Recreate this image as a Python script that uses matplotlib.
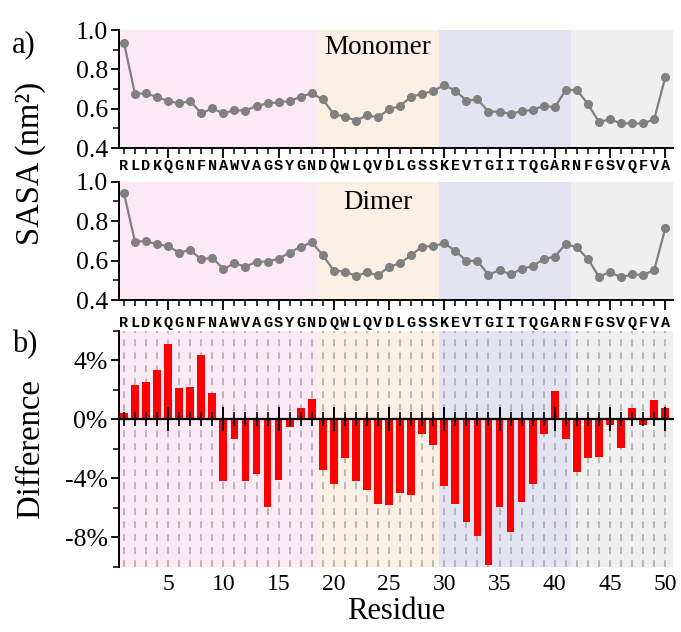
import matplotlib
matplotlib.use("Agg")
import matplotlib.pyplot as plt
from matplotlib.ticker import MultipleLocator, FixedLocator

plt.rcParams['font.family'] = ['Liberation Serif', 'DejaVu Serif']

sequence = "RLDKQGNFNAWVAGSYGNDQWLQVDLGSSKEVTGIITQGARNFGSVQFVA"
residues = list(range(1, 51))

monomer = [0.936, 0.675, 0.678, 0.659, 0.639, 0.627, 0.639, 0.576, 0.602, 0.576,
           0.593, 0.590, 0.614, 0.627, 0.632, 0.639, 0.661, 0.678, 0.647, 0.573,
           0.559, 0.539, 0.566, 0.556, 0.597, 0.614, 0.661, 0.675, 0.690, 0.720,
           0.692, 0.641, 0.647, 0.585, 0.585, 0.573, 0.588, 0.593, 0.615, 0.607,
           0.695, 0.695, 0.624, 0.532, 0.546, 0.525, 0.525, 0.525, 0.546, 0.759]

dimer = [0.941, 0.696, 0.699, 0.682, 0.674, 0.640, 0.653, 0.606, 0.615, 0.557,
         0.586, 0.569, 0.594, 0.594, 0.610, 0.640, 0.670, 0.692, 0.628, 0.549,
         0.544, 0.522, 0.540, 0.525, 0.569, 0.586, 0.628, 0.670, 0.674, 0.687,
         0.650, 0.598, 0.598, 0.527, 0.552, 0.530, 0.557, 0.572, 0.608, 0.620,
         0.684, 0.667, 0.608, 0.518, 0.542, 0.515, 0.530, 0.527, 0.552, 0.763]

difference = [0.45, 2.30, 2.53, 3.32, 5.08, 2.12, 2.17, 4.38, 1.79, -4.16,
              -1.36, -4.20, -3.71, -5.97, -4.11, -0.52, 0.77, 1.40, -3.43, -4.38,
              -2.64, -4.16, -4.77, -5.76, -5.81, -5.02, -5.13, -1.02, -1.72, -4.54,
              -5.76, -7.00, -7.91, -9.90, -5.97, -7.64, -5.60, -4.41, -1.02, 1.92,
              -1.36, -3.57, -2.64, -2.55, -0.36, -1.97, 0.79, -0.36, 1.29, 0.79]

# segment boundaries (residue) and colours
regions = [(0.5, 18.5, '#fce9f5'), (18.5, 29.5, '#fcefe3'),
           (29.5, 41.5, '#e3e3f3'), (41.5, 50.7, '#efefef')]

xmin, xmax = 0.55, 50.7
fig = plt.figure(figsize=(6.81, 6.32), dpi=100)

ax1 = fig.add_axes([0.1747, 0.7658, 0.8135, 0.1867])
ax2 = fig.add_axes([0.1747, 0.5253, 0.8135, 0.1872])
ax3 = fig.add_axes([0.1747, 0.1033, 0.8135, 0.3734])


def shade(ax):
    for a, b, c in regions:
        ax.axvspan(a, b, color=c, lw=0, zorder=0)


for ax, vals, name, ty in [(ax1, monomer, 'Monomer', 0.91), (ax2, dimer, 'Dimer', 0.895)]:
    shade(ax)
    ax.plot(residues, vals, '-o', color='#808080', lw=1.6, ms=5.5, zorder=3)
    ax.set_xlim(xmin, xmax)
    ax.set_ylim(0.4, 1.0)
    ax.spines['top'].set_visible(False)
    ax.spines['right'].set_visible(False)
    ax.spines['left'].set_linewidth(1.4)
    ax.spines['bottom'].set_linewidth(1.4)
    ax.xaxis.set_major_locator(MultipleLocator(5))
    ax.xaxis.set_minor_locator(MultipleLocator(1))
    ax.yaxis.set_major_locator(FixedLocator([0.4, 0.6, 0.8, 1.0]))
    ax.yaxis.set_minor_locator(FixedLocator([0.5, 0.7, 0.9]))
    ax.set_yticklabels(['0.4', '0.6', '0.8', '1.0'])
    ax.tick_params(axis='x', which='major', length=7, width=1.3, labelbottom=False)
    ax.tick_params(axis='x', which='minor', length=4, width=1.1)
    ax.tick_params(axis='y', which='major', length=6, width=1.3, labelsize=18.5, pad=2)
    ax.tick_params(axis='y', which='minor', length=4, width=1.1)
    ax.text(24, ty, name, ha='center', va='center', fontsize=19.5)

# sequence letters above dimer panel and difference panel
for ax, yy in [(ax2, 1.135), (ax3, 1.034)]:
    for r, ch in zip(residues, sequence):
        ax.text(r, yy, ch, transform=ax.get_xaxis_transform(), ha='center',
                va='center', fontsize=11, fontweight='bold',
                family='Liberation Mono')

# difference panel
shade(ax3)
for r in residues:
    ax3.axvline(r, color='#a8a8a8', lw=1.1, ls=(0, (4.5, 4)), zorder=1)
ax3.bar(residues, difference, width=0.7, color='#ff0000', zorder=2)
ax3.set_axisbelow(False)
ax3.set_xlim(xmin, xmax)
ax3.set_ylim(-10, 6)
for s in ['top', 'right']:
    ax3.spines[s].set_visible(False)
ax3.spines['left'].set_linewidth(1.4)
ax3.spines['bottom'].set_position(('data', 0))
ax3.spines['bottom'].set_linewidth(1.6)
ax3.xaxis.set_major_locator(MultipleLocator(5))
ax3.xaxis.set_minor_locator(MultipleLocator(1))
ax3.tick_params(axis='x', which='major', direction='inout', length=17, width=1.4, labelbottom=False)
ax3.tick_params(axis='x', which='minor', direction='inout', length=10, width=1.2)
ax3.yaxis.set_major_locator(FixedLocator([-8, -4, 0, 4]))
ax3.yaxis.set_minor_locator(FixedLocator([-10, -6, -2, 2, 6]))
ax3.set_yticklabels(['-8%', '-4%', '0%', '4%'])
ax3.tick_params(axis='y', which='major', length=6, width=1.3, labelsize=18.5, pad=2)
ax3.tick_params(axis='y', which='minor', length=4, width=1.1)

# residue numbers along the lower edge
bottom_ax = ax3.secondary_xaxis('bottom')
bottom_ax.spines['bottom'].set_visible(False)
bottom_ax.set_xticks(range(5, 51, 5))
bottom_ax.tick_params(axis='x', length=0, labelsize=17, pad=5)
bottom_ax.set_xlabel('Residue', fontsize=22, labelpad=2)

fig.text(0.045, 0.742, 'SASA (nm²)', rotation=90, ha='center', va='center', fontsize=23.5)
fig.text(0.045, 0.29, 'Difference', rotation=90, ha='center', va='center', fontsize=23.5)
fig.text(0.018, 0.93, 'a)', ha='left', va='center', fontsize=22)
fig.text(0.018, 0.455, 'b)', ha='left', va='center', fontsize=22)

plt.savefig("out.png", dpi=100)
plt.close()
